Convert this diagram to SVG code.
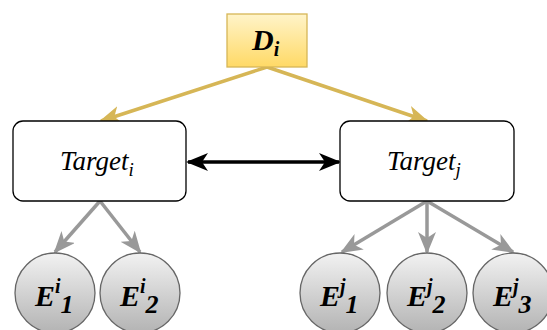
<svg xmlns="http://www.w3.org/2000/svg" width="547" height="330" viewBox="0 0 547 330">
<defs>
<linearGradient id="gy" x1="0" y1="0" x2="0" y2="1"><stop offset="0" stop-color="#fff4c9"/><stop offset="1" stop-color="#ffd966"/></linearGradient>
<linearGradient id="gg" x1="0" y1="0" x2="0" y2="1"><stop offset="0" stop-color="#f2f2f2"/><stop offset="1" stop-color="#b3b3b3"/></linearGradient>
<marker id="ay" viewBox="0 0 22 18" refX="20" refY="9" markerWidth="22" markerHeight="18" markerUnits="userSpaceOnUse" orient="auto"><path d="M0,0 L22,9 L0,18 L6,9 Z" fill="#d6b656"/></marker>
<marker id="ag" viewBox="0 0 22 18" refX="20" refY="9" markerWidth="22" markerHeight="18" markerUnits="userSpaceOnUse" orient="auto"><path d="M0,0 L22,9 L0,18 L6,9 Z" fill="#999999"/></marker>
<marker id="ab" viewBox="0 0 22 18" refX="20" refY="9" markerWidth="22" markerHeight="18" markerUnits="userSpaceOnUse" orient="auto-start-reverse"><path d="M0,0 L22,9 L0,18 L6,9 Z" fill="#000"/></marker>
</defs>
<style>
.t{font-style:italic;font-size:27px}
.b{font-style:italic;font-weight:bold;font-size:30px}
.box{fill:#fff;stroke:#000;stroke-width:1.3}
.e{fill:url(#gg);stroke:#666;stroke-width:1.3}
.ly{stroke:#d6b656;stroke-width:3.5;fill:none;marker-end:url(#ay)}
.lg{stroke:#999;stroke-width:3.5;fill:none;marker-end:url(#ag)}
</style>
<g id="connectors">
<line class="ly" x1="267" y1="67" x2="101" y2="121"/>
<line class="ly" x1="267" y1="67" x2="427" y2="121"/>
<line x1="188" y1="162" x2="339" y2="162" stroke="#000" stroke-width="3.5" marker-start="url(#ab)" marker-end="url(#ab)"/>
<line class="lg" x1="100" y1="201" x2="55" y2="252"/>
<line class="lg" x1="100" y1="201" x2="140" y2="252"/>
<line class="lg" x1="427" y1="201" x2="342" y2="252"/>
<line class="lg" x1="427" y1="201" x2="427" y2="252"/>
<line class="lg" x1="427" y1="201" x2="513" y2="252"/>
</g>
<g font-family="Liberation Serif, DejaVu Serif, serif" fill="#000">
<g id="D">
<rect x="227" y="14" width="80" height="53" fill="url(#gy)" stroke="#d6b656" stroke-width="1.3"/>
<text class="b" x="252" y="50">D<tspan font-size="20" dy="6">i</tspan></text>
</g>
<g id="TargetI">
<rect class="box" x="13" y="121" width="173" height="80" rx="10"/>
<text class="t" x="60" y="170">Target<tspan font-size="19" dy="6">i</tspan></text>
</g>
<g id="TargetJ">
<rect class="box" x="340" y="121" width="174" height="80" rx="10"/>
<text class="t" x="387" y="170">Target<tspan font-size="19" dy="6">j</tspan></text>
</g>
<g id="Ei1"><circle class="e" cx="55" cy="293" r="40"/><text class="b" x="35" y="306">E<tspan font-size="20" dy="-13">i</tspan><tspan font-size="26" dy="20">1</tspan></text></g>
<g id="Ei2"><circle class="e" cx="140" cy="293" r="40"/><text class="b" x="120" y="306">E<tspan font-size="20" dy="-13">i</tspan><tspan font-size="26" dy="20">2</tspan></text></g>
<g id="Ej1"><circle class="e" cx="340" cy="293" r="40"/><text class="b" x="320" y="306">E<tspan font-size="20" dy="-13">j</tspan><tspan font-size="26" dy="20">1</tspan></text></g>
<g id="Ej2"><circle class="e" cx="427" cy="293" r="40"/><text class="b" x="407" y="306">E<tspan font-size="20" dy="-13">j</tspan><tspan font-size="26" dy="20">2</tspan></text></g>
<g id="Ej3"><circle class="e" cx="513" cy="293" r="40"/><text class="b" x="493" y="306">E<tspan font-size="20" dy="-13">j</tspan><tspan font-size="26" dy="20">3</tspan></text></g>
</g>
</svg>
